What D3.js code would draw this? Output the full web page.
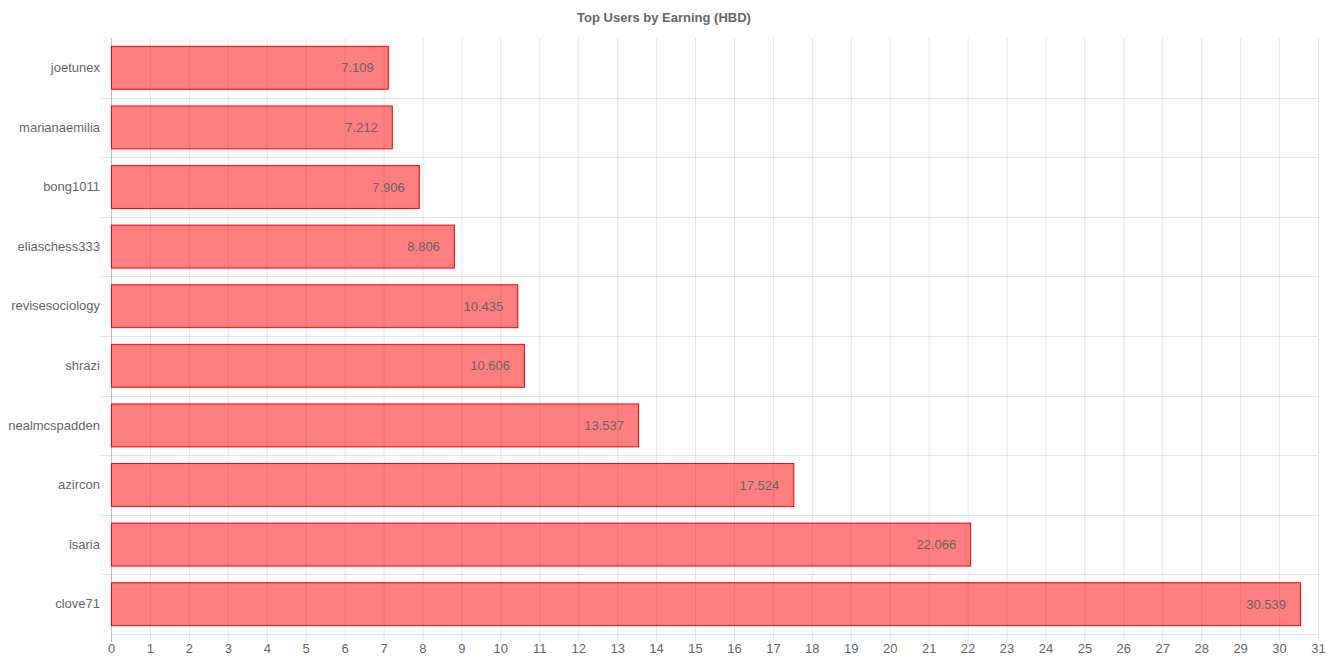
<!DOCTYPE html>
<html><head><meta charset="utf-8">
<script src="https://cdn.jsdelivr.net/npm/d3@7"></script>
<style>body{margin:0;background:#fff;} text{font-family:"Liberation Sans",Arial,sans-serif;}</style>
</head><body>
<svg id="c" width="1328" height="664"></svg>
<script>
const users = ["joetunex","marianaemilia","bong1011","eliaschess333","revisesociology","shrazi","nealmcspadden","azircon","isaria","clove71"];
const earnings = [7.109,7.212,7.906,8.806,10.435,10.606,13.537,17.524,22.066,30.539];
const xTicks = d3.range(0,32);
const title = "Top Users by Earning (HBD)";

const svg = d3.select("#c");
const L=111, R=1318, T=38, B=634;
const x = d3.scaleLinear().domain([0,31]).range([L,R]);
const y = d3.scaleBand().domain(users).range([T,B]);
const grid = "rgba(0,0,0,0.1)";
const fs = 13;

// vertical grid
svg.append("g").selectAll("line").data(xTicks).join("line")
  .attr("x1",d=>x(d)+0.5).attr("x2",d=>x(d)+0.5).attr("y1",T).attr("y2",B+8)
  .attr("stroke",d=>d===0?"rgba(0,0,0,0.25)":grid);
// horizontal grid at band boundaries
const bounds = users.map((u,i)=>y(u)+y.bandwidth());
svg.append("g").selectAll("line").data(bounds).join("line")
  .attr("x1",(d,i)=>i===bounds.length-1?L:L-10).attr("x2",R).attr("y1",d=>Math.round(d)+0.5).attr("y2",d=>Math.round(d)+0.5)
  .attr("stroke",grid);

// x axis labels
const xa = svg.append("g").attr("transform",`translate(0,${B})`)
  .call(d3.axisBottom(x).tickValues(xTicks).tickSize(0).tickPadding(10).tickFormat(d3.format("d")));
xa.select(".domain").remove();
xa.selectAll("text").attr("fill","#666").attr("font-size",fs).attr("font-family","Liberation Sans, Arial, sans-serif");

// y axis labels
const ya = svg.append("g").attr("transform",`translate(${L},0)`)
  .call(d3.axisLeft(y).tickSize(0).tickPadding(11));
ya.select(".domain").remove();
ya.selectAll("text").attr("fill","#666").attr("font-size",fs).attr("font-family","Liberation Sans, Arial, sans-serif");

// bars
const bh = y.bandwidth()*0.72;
const off = (y.bandwidth()-bh)/2;
svg.append("g").selectAll("rect").data(users).join("rect")
  .attr("x",x(0)+0.5).attr("y",(d)=>y(d)+off)
  .attr("width",(d,i)=>x(earnings[i])-x(0)).attr("height",bh)
  .attr("fill","rgba(255,0,0,0.5)").attr("stroke","#ff0000").attr("stroke-width",1);

// value labels
svg.append("g").selectAll("text").data(users).join("text")
  .attr("x",(d,i)=>x(earnings[i])-14).attr("y",d=>y(d)+y.bandwidth()/2)
  .attr("dy","0.35em").attr("text-anchor","end").attr("fill","#666").attr("font-size",fs)
  .text((d,i)=>earnings[i].toFixed(3));

// title
svg.append("text").attr("x",664).attr("y",22).attr("text-anchor","middle")
  .attr("font-size",fs).attr("font-weight","bold").attr("fill","#666").text(title);
</script>
</body></html>
